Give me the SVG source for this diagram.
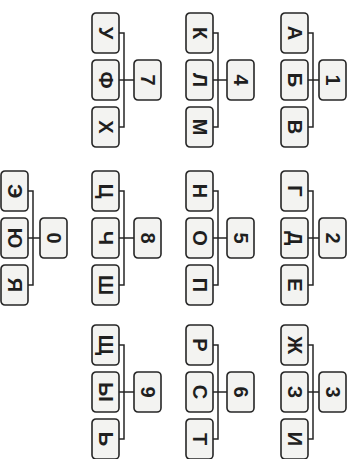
<svg xmlns="http://www.w3.org/2000/svg" width="351" height="459" viewBox="0 0 351 459">
<style>
.b{fill:#f3f3f1;stroke:#262626;stroke-width:1.6}
.t{font-family:"Liberation Sans",Arial,sans-serif;font-size:20px;font-weight:bold;fill:#1f1f1f;text-anchor:middle;dominant-baseline:central}
.c{fill:none;stroke:#262626;stroke-width:1.5}
</style>
<defs>
<rect id="box" width="27" height="40" rx="4" class="b"/>
</defs>
<rect width="351" height="459" fill="#fff"/>
<g id="connectors">
<path class="c" d="M308 33H313V127H308M308 80H319"/>
<path class="c" d="M308 191H313V285H308M308 238H319"/>
<path class="c" d="M308 345H313V439H308M308 392H319"/>
<path class="c" d="M213 33H218V127H213M213 80H227"/>
<path class="c" d="M213 191H218V285H213M213 238H227"/>
<path class="c" d="M213 345H218V439H213M213 392H227"/>
<path class="c" d="M119 33H124V127H119M119 80H134"/>
<path class="c" d="M119 191H124V285H119M119 238H134"/>
<path class="c" d="M119 345H124V439H119M119 392H134"/>
<path class="c" d="M28 191H33V285H28M28 238H40"/>
</g>
<g id="g1">
<use href="#box" x="281" y="13"/><use href="#box" x="281" y="60"/><use href="#box" x="281" y="107"/><use href="#box" x="319" y="60"/>
<text class="t" transform="translate(294.5 33) rotate(90)">А</text>
<text class="t" transform="translate(294.5 80) rotate(90)">Б</text>
<text class="t" transform="translate(294.5 127) rotate(90)">В</text>
<text class="t" transform="translate(332.5 80) rotate(90)">1</text>
</g>
<g id="g2">
<use href="#box" x="281" y="171"/><use href="#box" x="281" y="218"/><use href="#box" x="281" y="265"/><use href="#box" x="319" y="218"/>
<text class="t" transform="translate(294.5 191) rotate(90)">Г</text>
<text class="t" transform="translate(294.5 238) rotate(90)">Д</text>
<text class="t" transform="translate(294.5 285) rotate(90)">Е</text>
<text class="t" transform="translate(332.5 238) rotate(90)">2</text>
</g>
<g id="g3">
<use href="#box" x="281" y="325"/><use href="#box" x="281" y="372"/><use href="#box" x="281" y="419"/><use href="#box" x="319" y="372"/>
<text class="t" transform="translate(294.5 345) rotate(90)">Ж</text>
<text class="t" transform="translate(294.5 392) rotate(90)">З</text>
<text class="t" transform="translate(294.5 439) rotate(90)">И</text>
<text class="t" transform="translate(332.5 392) rotate(90)">3</text>
</g>
<g id="g4">
<use href="#box" x="186" y="13"/><use href="#box" x="186" y="60"/><use href="#box" x="186" y="107"/><use href="#box" x="227" y="60"/>
<text class="t" transform="translate(199.5 33) rotate(90)">К</text>
<text class="t" transform="translate(199.5 80) rotate(90)">Л</text>
<text class="t" transform="translate(199.5 127) rotate(90)">М</text>
<text class="t" transform="translate(240.5 80) rotate(90)">4</text>
</g>
<g id="g5">
<use href="#box" x="186" y="171"/><use href="#box" x="186" y="218"/><use href="#box" x="186" y="265"/><use href="#box" x="227" y="218"/>
<text class="t" transform="translate(199.5 191) rotate(90)">Н</text>
<text class="t" transform="translate(199.5 238) rotate(90)">О</text>
<text class="t" transform="translate(199.5 285) rotate(90)">П</text>
<text class="t" transform="translate(240.5 238) rotate(90)">5</text>
</g>
<g id="g6">
<use href="#box" x="186" y="325"/><use href="#box" x="186" y="372"/><use href="#box" x="186" y="419"/><use href="#box" x="227" y="372"/>
<text class="t" transform="translate(199.5 345) rotate(90)">Р</text>
<text class="t" transform="translate(199.5 392) rotate(90)">С</text>
<text class="t" transform="translate(199.5 439) rotate(90)">Т</text>
<text class="t" transform="translate(240.5 392) rotate(90)">6</text>
</g>
<g id="g7">
<use href="#box" x="92" y="13"/><use href="#box" x="92" y="60"/><use href="#box" x="92" y="107"/><use href="#box" x="134" y="60"/>
<text class="t" transform="translate(105.5 33) rotate(90)">У</text>
<text class="t" transform="translate(105.5 80) rotate(90)">Ф</text>
<text class="t" transform="translate(105.5 127) rotate(90)">Х</text>
<text class="t" transform="translate(147.5 80) rotate(90)">7</text>
</g>
<g id="g8">
<use href="#box" x="92" y="171"/><use href="#box" x="92" y="218"/><use href="#box" x="92" y="265"/><use href="#box" x="134" y="218"/>
<text class="t" transform="translate(105.5 191) rotate(90)">Ц</text>
<text class="t" transform="translate(105.5 238) rotate(90)">Ч</text>
<text class="t" transform="translate(105.5 285) rotate(90)">Ш</text>
<text class="t" transform="translate(147.5 238) rotate(90)">8</text>
</g>
<g id="g9">
<use href="#box" x="92" y="325"/><use href="#box" x="92" y="372"/><use href="#box" x="92" y="419"/><use href="#box" x="134" y="372"/>
<text class="t" transform="translate(105.5 345) rotate(90)">Щ</text>
<text class="t" transform="translate(105.5 392) rotate(90)">Ы</text>
<text class="t" transform="translate(105.5 439) rotate(90)">Ь</text>
<text class="t" transform="translate(147.5 392) rotate(90)">9</text>
</g>
<g id="g0">
<use href="#box" x="1" y="171"/><use href="#box" x="1" y="218"/><use href="#box" x="1" y="265"/><use href="#box" x="40" y="218"/>
<text class="t" transform="translate(14.5 191) rotate(90)">Э</text>
<text class="t" transform="translate(14.5 238) rotate(90)">Ю</text>
<text class="t" transform="translate(14.5 285) rotate(90)">Я</text>
<text class="t" transform="translate(53.5 238) rotate(90)">0</text>
</g>
</svg>
